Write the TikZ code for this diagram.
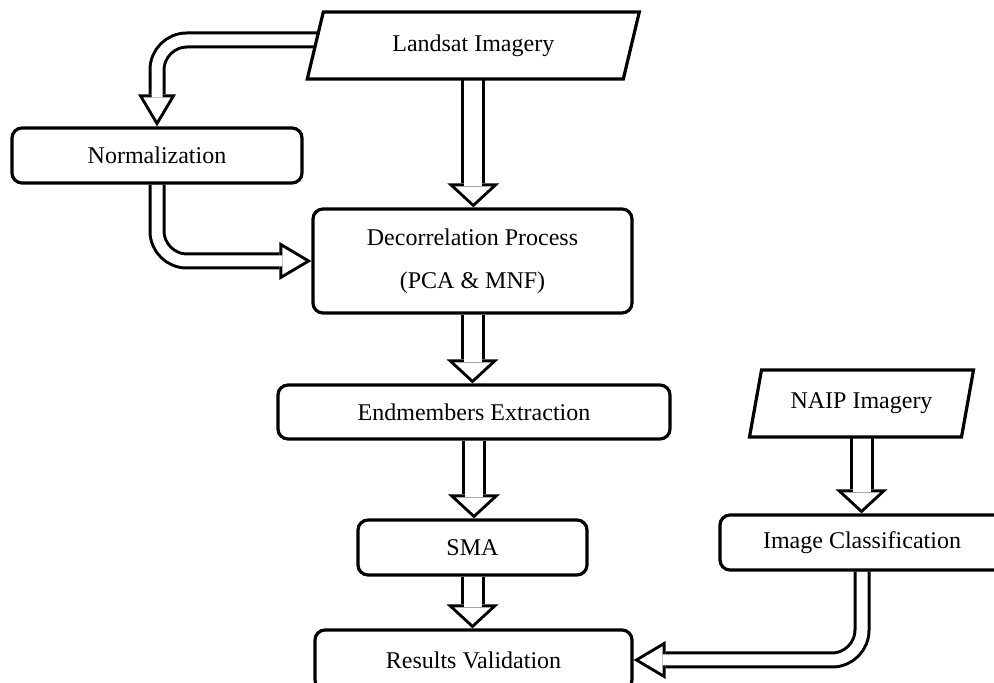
\documentclass[tikz,border=0pt]{standalone}
\usepackage{fontspec}
\setmainfont{Liberation Serif}
\usetikzlibrary{arrows.meta,backgrounds}

\begin{document}
\begin{tikzpicture}[
        x=0.5pt, y=0.5pt,
        stage/.style={draw, fill=white, line width=1.6pt, rounded corners=5pt, align=center, inner sep=0pt, font=\fontsize{12pt}{14.5pt}\selectfont},
        imagery/.style={outer sep=0pt, inner sep=0pt, minimum width=#1, minimum height=33.5pt, font=\fontsize{12pt}{14.5pt}\selectfont},
        slab/.style={draw, fill=white, line width=1.6pt},
        flow/.style={line width=12pt, -{Triangle[width=26pt,length=12pt,line width=0pt]},
            postaction={draw=white, line width=9pt, shorten >=2.04pt, -{Triangle[width=18.33pt,length=8.46pt,line width=0pt]}}},
        turnflow/.style={line width=8.5pt, rounded corners=15pt, -{Triangle[width=19pt,length=16pt,line width=0pt]},
            postaction={draw=white, line width=5.5pt, shorten >=2.94pt, -{Triangle[width=13.73pt,length=11.56pt,line width=0pt]}}}
    ]
    \useasboundingbox (0,0) rectangle (994,683);

    \node[stage, minimum width=145pt, minimum height=27.5pt]   (norm) at (157,527.5)   {Normalization};
    \node[stage, minimum width=159.5pt, minimum height=52pt]   (deco) at (472.5,422)   {Decorrelation Process\\[7pt](PCA \& MNF)};
    \node[stage, minimum width=196pt, minimum height=27pt]     (endm) at (474,271)     {Endmembers Extraction};
    \node[stage, minimum width=114.5pt, minimum height=27.5pt] (sma)  at (472.5,135.5) {SMA};
    \node[stage, minimum width=142pt, minimum height=27.5pt]   (cls)  at (862,140.5)   {Image Classification};
    \node[stage, minimum width=158.5pt, minimum height=30pt]   (res)  at (473.5,23)    {Results Validation};
    \node[imagery=158pt] (land) at (473.3,637.5) {Landsat Imagery};
    \node[imagery=106pt] (naip) at (861.5,279.5) {NAIP Imagery};
    \coordinate (landw) at (324,643);

    \begin{scope}[on background layer]
        \draw[flow] (land.south) -- (land.south |- deco.north);
        \draw[flow] (deco.south) -- (deco.south |- endm.north);
        \draw[flow] (endm.south) -- (endm.south |- sma.north);
        \draw[flow] (sma.south)  -- (sma.south |- res.north);
        \draw[flow] (naip.south) -- (naip.south |- cls.north);
        \draw[turnflow] (landw) -| (norm.north);
        \draw[turnflow] (norm.south) |- (deco.west);
        \draw[turnflow] (cls.south) |- (res.east);
        \draw[slab] ([xshift=4pt]land.north west) -- ([xshift=4pt]land.north east) -- ([xshift=-4pt]land.south east) -- ([xshift=-4pt]land.south west) -- cycle;
        \draw[slab] ([xshift=3pt]naip.north west) -- ([xshift=3pt]naip.north east) -- ([xshift=-3pt]naip.south east) -- ([xshift=-3pt]naip.south west) -- cycle;
    \end{scope}
\end{tikzpicture}
\end{document}
